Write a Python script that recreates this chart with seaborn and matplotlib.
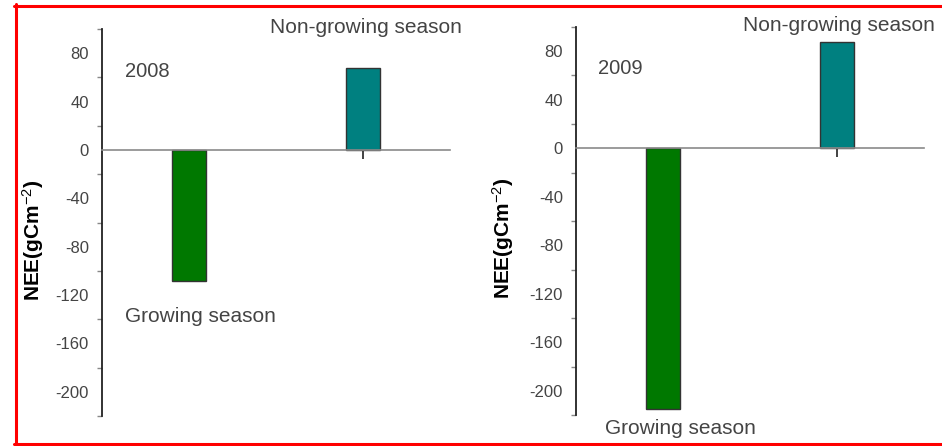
import matplotlib
matplotlib.use("Agg")
import matplotlib.pyplot as plt
from matplotlib.lines import Line2D
from matplotlib.ticker import MultipleLocator
import pandas as pd
import seaborn as sns

# Seasonal net ecosystem exchange per year
seasons = ["Growing season", "Non-growing season"]
nee_2008 = [-108, 68]
nee_2009 = [-215, 88]
years = ["2008", "2009"]
bar_colors = ["#007800", "#008080"]

sns.set_style("white")
plt.rcParams["font.family"] = ["Liberation Sans", "DejaVu Sans"]
plt.rcParams["axes.unicode_minus"] = False
plt.rcParams["mathtext.fontset"] = "custom"
plt.rcParams["mathtext.rm"] = "Liberation Sans"
plt.rcParams["mathtext.it"] = "Liberation Sans:italic"
plt.rcParams["mathtext.bf"] = "Liberation Sans:bold"

W, H = 942, 446
fig = plt.figure(figsize=(W / 100, H / 100), dpi=100)

text_color = "#444444"


def px_axes(x0, x1, ytop, ybot):
    return fig.add_axes([x0 / W, 1 - ybot / H, (x1 - x0) / W, (ybot - ytop) / H])


panels = [
    dict(ax=px_axes(102, 450, 29, 416), vals=nee_2008, year=years[0],
         year_xy=(0.066, 0.891), non_xy=(0.483, 1.005), grow_xy=(0.066, 0.258),
         label_x=-0.16),
    dict(ax=px_axes(576, 924, 27, 415), vals=nee_2009, year=years[1],
         year_xy=(0.063, 0.894), non_xy=(0.479, 1.003), grow_xy=(0.083, -0.034),
         label_x=-0.172),
]

for p in panels:
    ax = p["ax"]
    df = pd.DataFrame({"season": seasons, "NEE": p["vals"]})
    sns.barplot(data=df, x="season", y="NEE", hue="season", palette=bar_colors,
                width=0.2, edgecolor="#333333", linewidth=1.0, legend=False,
                ax=ax, saturation=1)
    ax.set_xlim(-0.5, 1.5)
    ax.set_ylim(-220, 100)

    for side in ["top", "right"]:
        ax.spines[side].set_visible(False)
    ax.spines["left"].set_color("#222222")
    ax.spines["left"].set_linewidth(1.3)
    ax.spines["bottom"].set_position(("data", 0))
    ax.spines["bottom"].set_color("#8a8a8a")
    ax.spines["bottom"].set_linewidth(1.2)

    ax.yaxis.set_major_locator(MultipleLocator(40))
    ax.yaxis.set_minor_locator(MultipleLocator(20))
    ax.tick_params(axis="y", which="major", direction="out", length=6.5,
                   width=1.1, color="#555555", labelsize=12,
                   labelcolor=text_color, pad=3)
    ax.tick_params(axis="y", which="minor", direction="out", length=3.5,
                   width=1.0, color="#888888", left=True)
    ax.tick_params(axis="x", which="major", direction="out", length=6.5,
                   width=1.2, color="#222222", labelbottom=False, bottom=True)
    ax.set_xlabel("")
    ax.set_ylabel(r"NEE(gCm$^{-2}$)", fontsize=15, fontweight="bold",
                  color="black")
    ax.yaxis.set_label_coords(p["label_x"], 0.455)

    ax.text(*p["year_xy"], p["year"], transform=ax.transAxes, fontsize=14.5,
            color=text_color, ha="left", va="center")
    ax.text(*p["non_xy"], seasons[1], transform=ax.transAxes, fontsize=15,
            color=text_color, ha="left", va="center", clip_on=False)
    ax.text(*p["grow_xy"], seasons[0], transform=ax.transAxes, fontsize=15,
            color=text_color, ha="left", va="center", clip_on=False)

# Red frame around the figure
lw = 2.2
fig.add_artist(Line2D([15.5 / W, 15.5 / W], [1 - 4 / H, 1 - 445 / H],
                      transform=fig.transFigure, color="red", lw=lw))
fig.add_artist(Line2D([14 / W, 1.0], [1 - 5.5 / H, 1 - 5.5 / H],
                      transform=fig.transFigure, color="red", lw=lw))
fig.add_artist(Line2D([14 / W, 1.0], [1 - 444 / H, 1 - 444 / H],
                      transform=fig.transFigure, color="red", lw=lw))

fig.savefig("out.png", dpi=100, facecolor="white")
